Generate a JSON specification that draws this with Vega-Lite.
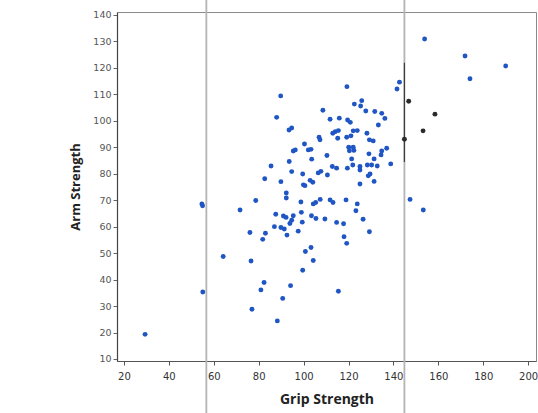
{
  "$schema": "https://vega.github.io/schema/vega-lite/v6.json",
  "autosize": {"type": "none"},
  "padding": {"left": 117, "top": 12, "right": 2, "bottom": 52},
  "width": 419,
  "height": 349,
  "background": "white",
  "config": {
    "view": {"stroke": "#8a8a8a", "strokeWidth": 1},
    "axis": {"grid": false, "labelOverlap": false, "labelBound": false, "labelFlush": false},
    "axisX": {
      "titleFont": "Open Sans", "titleFontSize": 14, "titleFontWeight": "bold", "titleColor": "#222", "titlePadding": 11,
      "labelFont": "DejaVu Sans", "labelFontSize": 10, "labelColor": "#333", "labelPadding": 6,
      "tickSize": 4, "tickColor": "#555", "domainColor": "#555", "domainWidth": 1.2
    },
    "axisY": {
      "titleFont": "Open Sans", "titleFontSize": 13, "titleFontWeight": "bold", "titleColor": "#222", "titlePadding": 10,
      "labelFont": "DejaVu Sans", "labelFontSize": 9.5, "labelColor": "#555", "labelPadding": 2,
      "tickSize": 4, "tickColor": "#666", "domainColor": "#444", "domainWidth": 1.2
    }
  },
  "datasets": {
    "pts": [
      {"grip": 29.4, "arm": 19.3, "set": "main"},
      {"grip": 54.7, "arm": 68.6, "set": "main"},
      {"grip": 55.0, "arm": 67.9, "set": "main"},
      {"grip": 55.1, "arm": 35.3, "set": "main"},
      {"grip": 64.2, "arm": 48.7, "set": "main"},
      {"grip": 71.7, "arm": 66.3, "set": "main"},
      {"grip": 76.1, "arm": 57.8, "set": "main"},
      {"grip": 76.6, "arm": 47.0, "set": "main"},
      {"grip": 77.0, "arm": 28.8, "set": "main"},
      {"grip": 78.7, "arm": 69.9, "set": "main"},
      {"grip": 81.0, "arm": 36.1, "set": "main"},
      {"grip": 81.8, "arm": 55.2, "set": "main"},
      {"grip": 82.4, "arm": 38.9, "set": "main"},
      {"grip": 82.7, "arm": 78.1, "set": "main"},
      {"grip": 83.0, "arm": 57.5, "set": "main"},
      {"grip": 85.5, "arm": 82.9, "set": "main"},
      {"grip": 87.0, "arm": 60.0, "set": "main"},
      {"grip": 87.6, "arm": 64.7, "set": "main"},
      {"grip": 88.0, "arm": 101.3, "set": "main"},
      {"grip": 88.3, "arm": 24.4, "set": "main"},
      {"grip": 89.8, "arm": 109.4, "set": "main"},
      {"grip": 89.9, "arm": 77.0, "set": "main"},
      {"grip": 89.9, "arm": 59.7, "set": "main"},
      {"grip": 90.7, "arm": 32.9, "set": "main"},
      {"grip": 91.0, "arm": 64.0, "set": "main"},
      {"grip": 91.4, "arm": 59.1, "set": "main"},
      {"grip": 92.2, "arm": 63.5, "set": "main"},
      {"grip": 92.3, "arm": 72.7, "set": "main"},
      {"grip": 92.3, "arm": 70.8, "set": "main"},
      {"grip": 92.6, "arm": 56.8, "set": "main"},
      {"grip": 93.5, "arm": 96.5, "set": "main"},
      {"grip": 94.7, "arm": 97.3, "set": "main"},
      {"grip": 93.6, "arm": 84.6, "set": "main"},
      {"grip": 94.2, "arm": 37.7, "set": "main"},
      {"grip": 93.9, "arm": 61.2, "set": "main"},
      {"grip": 94.7, "arm": 62.4, "set": "main"},
      {"grip": 94.7, "arm": 80.8, "set": "main"},
      {"grip": 95.4, "arm": 88.6, "set": "main"},
      {"grip": 96.3, "arm": 89.0, "set": "main"},
      {"grip": 95.4, "arm": 64.1, "set": "main"},
      {"grip": 97.6, "arm": 58.3, "set": "main"},
      {"grip": 98.8, "arm": 69.3, "set": "main"},
      {"grip": 99.0, "arm": 65.4, "set": "main"},
      {"grip": 99.4, "arm": 61.7, "set": "main"},
      {"grip": 99.6, "arm": 79.9, "set": "main"},
      {"grip": 99.6, "arm": 43.5, "set": "main"},
      {"grip": 99.9, "arm": 75.8, "set": "main"},
      {"grip": 100.6, "arm": 75.5, "set": "main"},
      {"grip": 100.4, "arm": 91.2, "set": "main"},
      {"grip": 100.8, "arm": 50.6, "set": "main"},
      {"grip": 102.1, "arm": 89.0, "set": "main"},
      {"grip": 103.3, "arm": 89.2, "set": "main"},
      {"grip": 102.9, "arm": 77.5, "set": "main"},
      {"grip": 104.1, "arm": 76.8, "set": "main"},
      {"grip": 103.6, "arm": 85.5, "set": "main"},
      {"grip": 103.3, "arm": 52.1, "set": "main"},
      {"grip": 103.5, "arm": 64.1, "set": "main"},
      {"grip": 104.3, "arm": 68.6, "set": "main"},
      {"grip": 105.4, "arm": 69.1, "set": "main"},
      {"grip": 105.5, "arm": 63.1, "set": "main"},
      {"grip": 104.3, "arm": 47.2, "set": "main"},
      {"grip": 106.5, "arm": 80.3, "set": "main"},
      {"grip": 107.7, "arm": 80.9, "set": "main"},
      {"grip": 106.9, "arm": 93.8, "set": "main"},
      {"grip": 107.3, "arm": 92.8, "set": "main"},
      {"grip": 107.4, "arm": 70.3, "set": "main"},
      {"grip": 109.5, "arm": 62.9, "set": "main"},
      {"grip": 110.4, "arm": 86.9, "set": "main"},
      {"grip": 110.6, "arm": 79.5, "set": "main"},
      {"grip": 108.6, "arm": 104.0, "set": "main"},
      {"grip": 111.8, "arm": 100.6, "set": "main"},
      {"grip": 111.8, "arm": 70.1, "set": "main"},
      {"grip": 113.1, "arm": 69.1, "set": "main"},
      {"grip": 113.0, "arm": 95.3, "set": "main"},
      {"grip": 114.1, "arm": 95.9, "set": "main"},
      {"grip": 115.5, "arm": 96.3, "set": "main"},
      {"grip": 115.2, "arm": 93.4, "set": "main"},
      {"grip": 115.9, "arm": 101.0, "set": "main"},
      {"grip": 112.8, "arm": 82.7, "set": "main"},
      {"grip": 114.7, "arm": 82.1, "set": "main"},
      {"grip": 114.7, "arm": 61.6, "set": "main"},
      {"grip": 115.5, "arm": 35.6, "set": "main"},
      {"grip": 117.8, "arm": 61.1, "set": "main"},
      {"grip": 118.0, "arm": 56.2, "set": "main"},
      {"grip": 119.2, "arm": 53.7, "set": "main"},
      {"grip": 118.9, "arm": 70.1, "set": "main"},
      {"grip": 119.3, "arm": 112.9, "set": "main"},
      {"grip": 119.6, "arm": 100.3, "set": "main"},
      {"grip": 120.8, "arm": 99.4, "set": "main"},
      {"grip": 119.2, "arm": 93.8, "set": "main"},
      {"grip": 121.1, "arm": 94.3, "set": "main"},
      {"grip": 119.5, "arm": 82.1, "set": "main"},
      {"grip": 120.1, "arm": 90.0, "set": "main"},
      {"grip": 122.1, "arm": 90.0, "set": "main"},
      {"grip": 120.4, "arm": 88.7, "set": "main"},
      {"grip": 122.4, "arm": 88.8, "set": "main"},
      {"grip": 121.4, "arm": 85.6, "set": "main"},
      {"grip": 121.9, "arm": 83.3, "set": "main"},
      {"grip": 122.1, "arm": 96.2, "set": "main"},
      {"grip": 123.9, "arm": 96.3, "set": "main"},
      {"grip": 122.6, "arm": 106.3, "set": "main"},
      {"grip": 125.9, "arm": 107.6, "set": "main"},
      {"grip": 125.4, "arm": 105.6, "set": "main"},
      {"grip": 123.9, "arm": 68.6, "set": "main"},
      {"grip": 123.3, "arm": 66.0, "set": "main"},
      {"grip": 125.1, "arm": 82.7, "set": "main"},
      {"grip": 125.1, "arm": 81.4, "set": "main"},
      {"grip": 125.1, "arm": 76.1, "set": "main"},
      {"grip": 126.5, "arm": 62.8, "set": "main"},
      {"grip": 127.7, "arm": 103.7, "set": "main"},
      {"grip": 128.2, "arm": 95.3, "set": "main"},
      {"grip": 128.4, "arm": 83.3, "set": "main"},
      {"grip": 130.3, "arm": 83.3, "set": "main"},
      {"grip": 128.8, "arm": 79.2, "set": "main"},
      {"grip": 129.6, "arm": 79.9, "set": "main"},
      {"grip": 129.1, "arm": 87.5, "set": "main"},
      {"grip": 129.3, "arm": 92.8, "set": "main"},
      {"grip": 131.0, "arm": 92.4, "set": "main"},
      {"grip": 129.3, "arm": 58.1, "set": "main"},
      {"grip": 131.4, "arm": 85.6, "set": "main"},
      {"grip": 131.4, "arm": 77.1, "set": "main"},
      {"grip": 131.7, "arm": 103.5, "set": "main"},
      {"grip": 132.8, "arm": 82.9, "set": "main"},
      {"grip": 133.3, "arm": 98.4, "set": "main"},
      {"grip": 134.8, "arm": 102.8, "set": "main"},
      {"grip": 136.2, "arm": 100.9, "set": "main"},
      {"grip": 134.8, "arm": 88.6, "set": "main"},
      {"grip": 137.0, "arm": 89.6, "set": "main"},
      {"grip": 134.5, "arm": 87.1, "set": "main"},
      {"grip": 138.8, "arm": 83.7, "set": "main"},
      {"grip": 141.6, "arm": 112.0, "set": "main"},
      {"grip": 142.7, "arm": 114.6, "set": "main"},
      {"grip": 147.4, "arm": 70.3, "set": "main"},
      {"grip": 153.3, "arm": 66.3, "set": "main"},
      {"grip": 153.9, "arm": 130.9, "set": "main"},
      {"grip": 171.9, "arm": 124.5, "set": "main"},
      {"grip": 174.1, "arm": 115.9, "set": "main"},
      {"grip": 190.0, "arm": 120.7, "set": "main"},
      {"grip": 146.8, "arm": 107.4, "set": "marked"},
      {"grip": 158.5, "arm": 102.5, "set": "marked"},
      {"grip": 153.2, "arm": 96.2, "set": "marked"},
      {"grip": 144.9, "arm": 93.0, "set": "marked"}
    ],
    "guides": [
      {"grip": 56.7, "lo": -11, "hi": 146},
      {"grip": 144.9, "lo": -11, "hi": 146}
    ],
    "pen": [
      {"grip": 144.9, "lo": 84.4, "hi": 121.9}
    ]
  },
  "layer": [
    {
      "data": {"name": "guides"},
      "mark": {"type": "rule", "color": "#b4b4b4", "strokeWidth": 1.8},
      "encoding": {
        "x": {"field": "grip", "type": "quantitative", "scale": {"domain": [16.9, 203.5], "nice": false, "zero": false},
          "axis": {"title": "Grip Strength", "values": [20, 40, 60, 80, 100, 120, 140, 160, 180, 200]}},
        "y": {"field": "lo", "type": "quantitative", "scale": {"domain": [9.24, 141.1], "nice": false, "zero": false},
          "axis": {"title": "Arm Strength", "values": [10, 20, 30, 40, 50, 60, 70, 80, 90, 100, 110, 120, 130, 140]}},
        "y2": {"field": "hi"}
      }
    },
    {
      "data": {"name": "pen"},
      "mark": {"type": "rule", "color": "#3a3a3a", "strokeWidth": 1.2},
      "encoding": {
        "x": {"field": "grip", "type": "quantitative",
          "axis": {"title": "Grip Strength", "values": [20, 40, 60, 80, 100, 120, 140, 160, 180, 200]}},
        "y": {"field": "lo", "type": "quantitative",
          "axis": {"title": "Arm Strength", "values": [10, 20, 30, 40, 50, 60, 70, 80, 90, 100, 110, 120, 130, 140]}},
        "y2": {"field": "hi"}
      }
    },
    {
      "data": {"name": "pts"},
      "mark": {"type": "circle", "size": 24, "opacity": 1},
      "encoding": {
        "x": {"field": "grip", "type": "quantitative",
          "axis": {"title": "Grip Strength", "values": [20, 40, 60, 80, 100, 120, 140, 160, 180, 200]}},
        "y": {"field": "arm", "type": "quantitative",
          "axis": {"title": "Arm Strength", "values": [10, 20, 30, 40, 50, 60, 70, 80, 90, 100, 110, 120, 130, 140]}},
        "color": {"field": "set", "type": "nominal", "scale": {"domain": ["main", "marked"], "range": ["#1f56c4", "#2b2b2b"]}, "legend": null}
      }
    }
  ]
}
